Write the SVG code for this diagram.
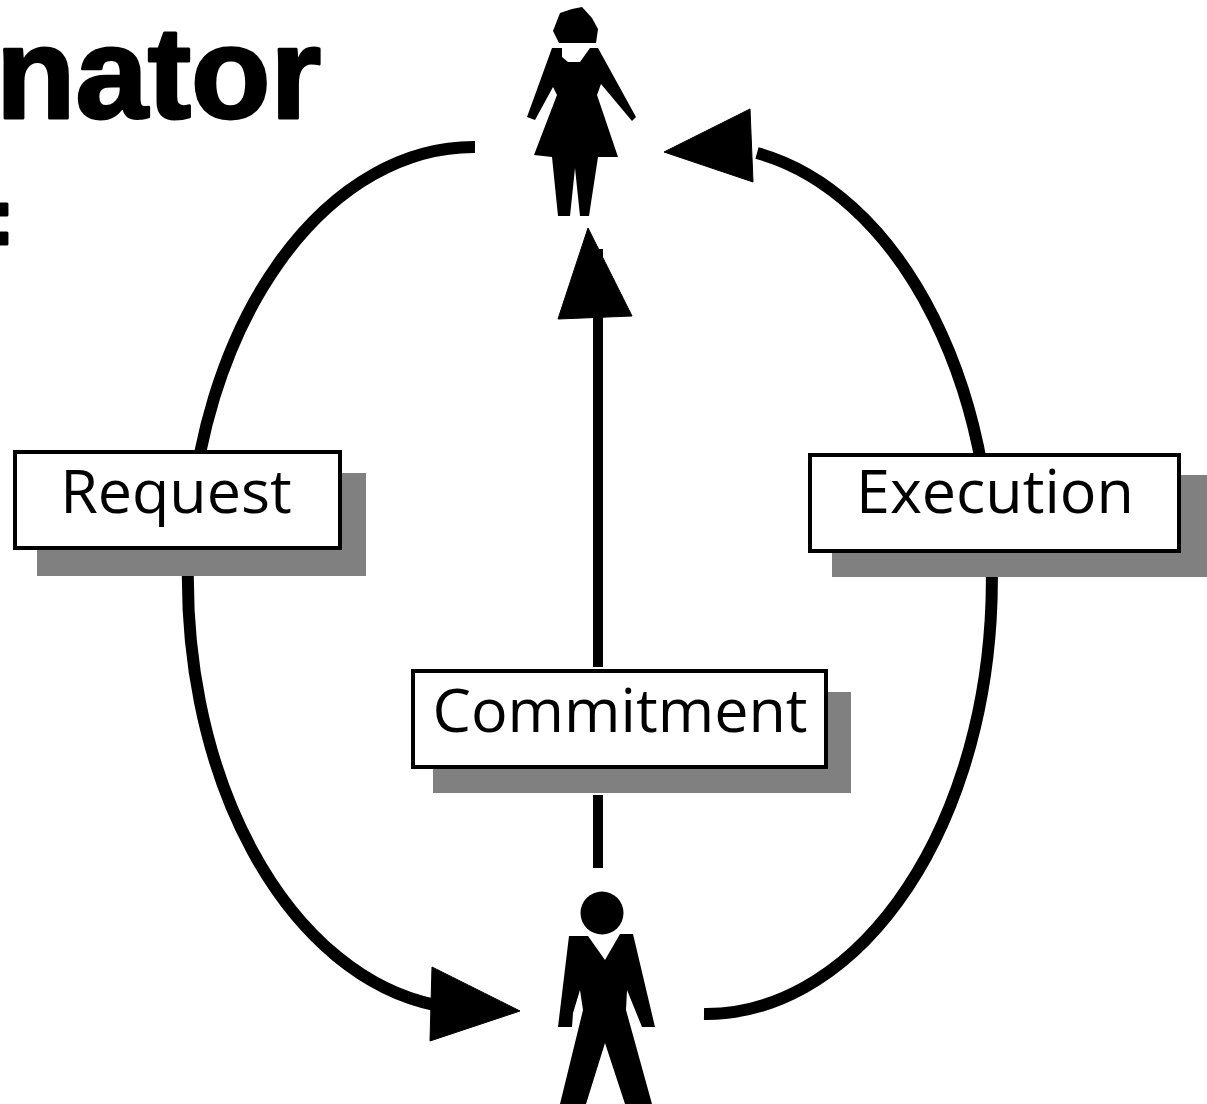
<svg xmlns="http://www.w3.org/2000/svg" width="1207" height="1104" viewBox="0 0 1207 1104">
  <style>
    .bg { fill: #ffffff; }
    .conn { fill: none; stroke: #000000; stroke-width: 12; }
    .shaft { fill: none; stroke: #000000; stroke-width: 10; }
    .head { fill: #000000; stroke: #000000; stroke-width: 1; stroke-linejoin: miter; }
    .fig { fill: #000000; }
    .shadow { fill: #808080; }
    .box { fill: #ffffff; stroke: #000000; stroke-width: 4; }
    .lbl { font-family: "Open Sans", "Liberation Sans", sans-serif; font-size: 61px; fill: #000000; text-anchor: middle; }
    .title { font-family: "Liberation Sans", Arial, sans-serif; font-weight: bold; fill: #000000; stroke: #000000; stroke-width: 3; stroke-linejoin: round; }
  </style>
  <rect class="bg" x="0" y="0" width="1207" height="1104"/>

  <g id="title">
    <text class="title" x="321" y="118" font-size="130" text-anchor="end">nator</text>
    <text class="title" x="-12" y="244" font-size="80">:</text>
  </g>

  <g id="connectors">
    <!-- Request: initiator to executor -->
    <path class="conn" d="M475,147 A286,431 0 0 0 435,1005"/>
    <polygon class="head" points="432,967 520,1011 430,1041"/>
    <!-- Commitment: executor to initiator -->
    <path class="shaft" d="M598,316 V667 M598,795 V868"/>
    <polygon class="head" points="588,228 632,316 558,319"/>
    <rect x="599" y="249" width="4" height="9" fill="#000000"/>
    <!-- Execution: executor to initiator -->
    <path class="conn" d="M704,1014 A286,434 0 0 0 757,153"/>
    <polygon class="head" points="664,152 750,109 753,182"/>
  </g>

  <g id="request">
    <rect class="shadow" x="37" y="473" width="329" height="103"/>
    <rect class="box" x="15" y="452" width="325" height="96"/>
    <text class="lbl" x="176" y="513">Request</text>
  </g>

  <g id="commitment">
    <rect class="shadow" x="433" y="692" width="418" height="101"/>
    <rect class="box" x="413" y="671" width="413" height="96"/>
    <text class="lbl" x="620" y="732">Commitment</text>
  </g>

  <g id="execution">
    <rect class="shadow" x="832" y="475" width="375" height="102"/>
    <rect class="box" x="810" y="455" width="369" height="96"/>
    <text class="lbl" x="995" y="513">Execution</text>
  </g>

  <g id="initiator">
    <polygon class="fig" points="560,13 572,9 582,7 592,18 598,29 596,43 559,43 553,31"/>
    <polygon class="fig" points="552,48 562,48 562,57 568,62 580,62 590,48 598,48 636,117 632,121 601,84 597,95 618,157 598,157 589,216 580,216 575,168 570,216 558,216 552,157 534,155 557,95 553,87 535,120 527,117"/>
  </g>

  <g id="executor">
    <ellipse class="fig" cx="602" cy="913" rx="21.5" ry="21.5"/>
    <polygon class="fig" points="569,936 588,936 605,960 620,934 633,934 655,1027 642,1027 627,990 626,1010 652,1104 625,1104 605,1043 586,1104 560,1104 583,1010 580,990 573,1013 572,1027 558,1027"/>
  </g>
</svg>
